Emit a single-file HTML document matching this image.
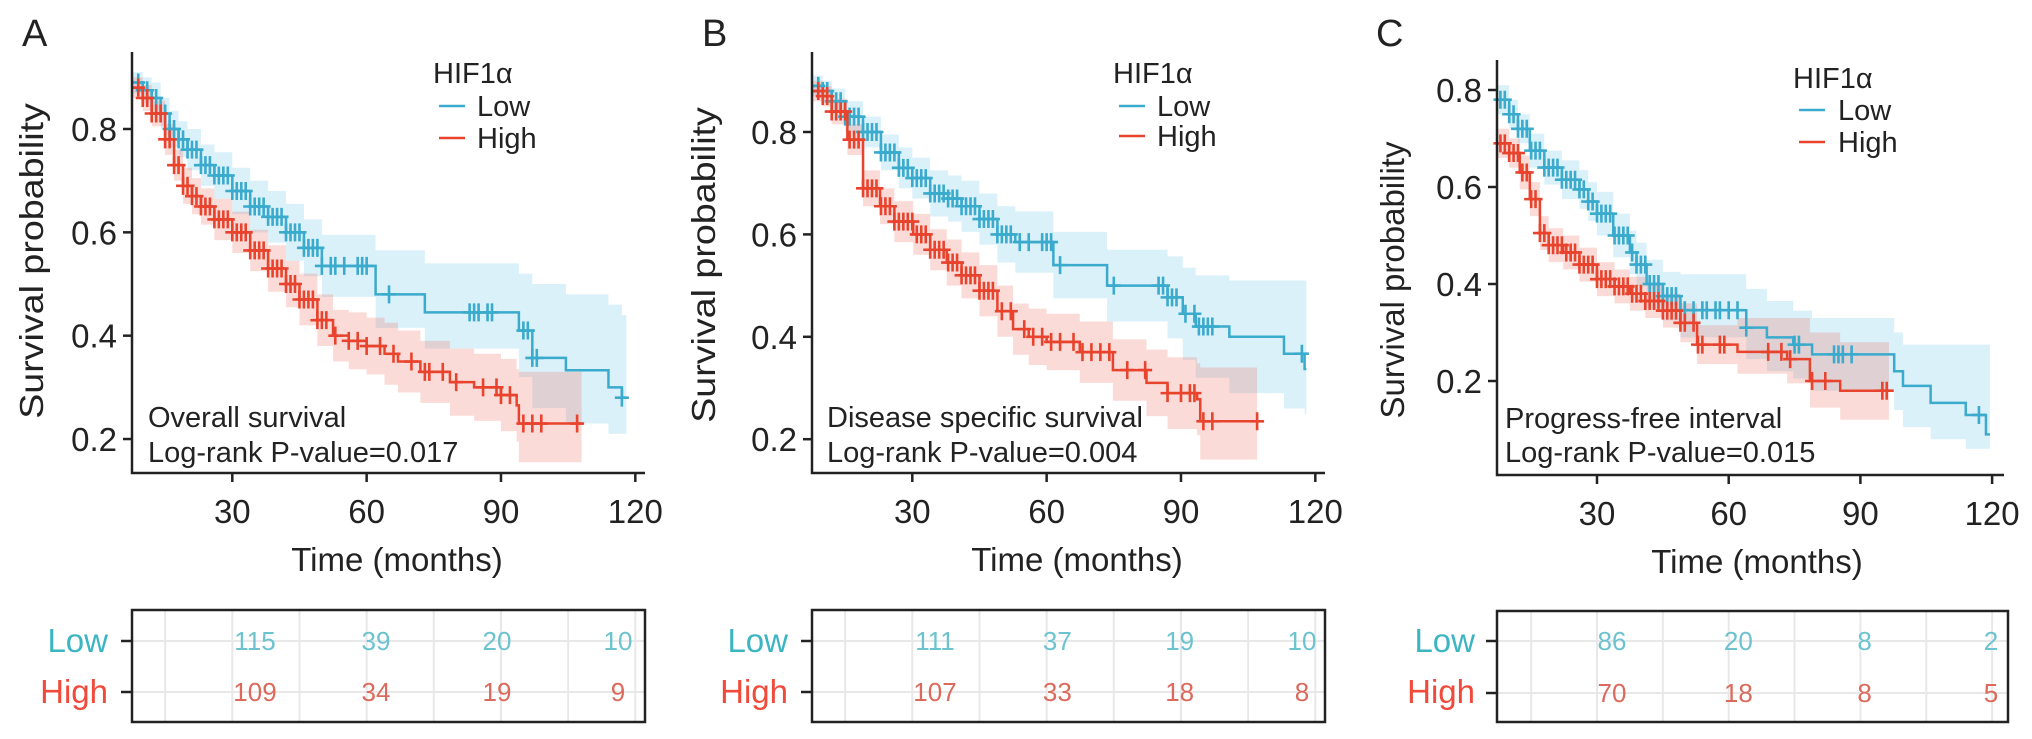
<!DOCTYPE html>
<html><head><meta charset="utf-8"><style>
html,body{margin:0;padding:0;background:#fff}
svg{display:block}
text{font-family:"Liberation Sans",Arial,sans-serif;fill:#222}
</style></head><body>
<svg id="fig" width="2032" height="739" viewBox="0 0 2032 739" xmlns="http://www.w3.org/2000/svg">
<g id="bands"></g>
<g id="marks"></g>
<g id="axes"></g>
<!-- Panel A static text -->
<text x="22" y="46" font-size="38">A</text>
<text transform="translate(43,261) rotate(-90) scale(1.14,1)" text-anchor="middle" font-size="33">Survival probability</text>
<text x="397" y="571" text-anchor="middle" font-size="33">Time (months)</text>
<text x="433" y="83" font-size="29">HIF1α</text>
<line x1="439" x2="465" y1="106" y2="106" stroke="#3aaacd" stroke-width="2.5"/>
<text x="477" y="116" font-size="29">Low</text>
<line x1="439" x2="465" y1="138" y2="138" stroke="#e8432d" stroke-width="2.5"/>
<text x="477" y="148" font-size="29">High</text>
<text x="148" y="427" font-size="29">Overall survival</text>
<text x="148" y="462" font-size="29">Log-rank P-value=0.017</text>
<text x="108" y="652" text-anchor="end" font-size="33" style="fill:#3bb5c2">Low</text>
<text x="108" y="703" text-anchor="end" font-size="33" style="fill:#f04a3a">High</text>
<!-- Panel B static text -->
<text x="702" y="46" font-size="38">B</text>
<text transform="translate(715,265) rotate(-90) scale(1.14,1)" text-anchor="middle" font-size="33">Survival probability</text>
<text x="1077" y="571" text-anchor="middle" font-size="33">Time (months)</text>
<text x="1113" y="83" font-size="29">HIF1α</text>
<line x1="1119" x2="1145" y1="106" y2="106" stroke="#3aaacd" stroke-width="2.5"/>
<text x="1157" y="116" font-size="29">Low</text>
<line x1="1119" x2="1145" y1="136" y2="136" stroke="#e8432d" stroke-width="2.5"/>
<text x="1157" y="146" font-size="29">High</text>
<text x="827" y="427" font-size="29">Disease specific survival</text>
<text x="827" y="462" font-size="29">Log-rank P-value=0.004</text>
<text x="788" y="652" text-anchor="end" font-size="33" style="fill:#3bb5c2">Low</text>
<text x="788" y="703" text-anchor="end" font-size="33" style="fill:#f04a3a">High</text>
<!-- Panel C static text -->
<text x="1376" y="46" font-size="38">C</text>
<text transform="translate(1404,280) rotate(-90)" text-anchor="middle" font-size="33">Survival probability</text>
<text x="1757" y="573" text-anchor="middle" font-size="33">Time (months)</text>
<text x="1793" y="88" font-size="29">HIF1α</text>
<line x1="1799" x2="1825" y1="110" y2="110" stroke="#3aaacd" stroke-width="2.5"/>
<text x="1838" y="120" font-size="29">Low</text>
<line x1="1799" x2="1825" y1="142" y2="142" stroke="#e8432d" stroke-width="2.5"/>
<text x="1838" y="152" font-size="29">High</text>
<text x="1505" y="428" font-size="29">Progress-free interval</text>
<text x="1505" y="462" font-size="29">Log-rank P-value=0.015</text>
<text x="1475" y="652" text-anchor="end" font-size="33" style="fill:#3bb5c2">Low</text>
<text x="1475" y="703" text-anchor="end" font-size="33" style="fill:#f04a3a">High</text>
</svg>
<script>
// ---------- data ----------
const xTicks = [30, 60, 90, 120];
const yTicks = [0.2, 0.4, 0.6, 0.8];
const yTickLabels = ["0.2", "0.4", "0.6", "0.8"];
const riskTimes = [30, 60, 90, 120];

// Panel A - overall survival
const aLowT  = [7.6,10,12,14,16,18,20,23,26,30,34,38,42,46,50,62,73,94,97,104.5,114,117,118];
const aLowS  = [0.89,0.875,0.86,0.83,0.80,0.78,0.76,0.73,0.71,0.68,0.65,0.63,0.60,0.57,0.535,0.48,0.445,0.41,0.357,0.333,0.30,0.28,0.28];
const aLowLo = [0.87,0.85,0.83,0.80,0.765,0.745,0.72,0.69,0.665,0.635,0.60,0.58,0.545,0.515,0.475,0.415,0.375,0.32,0.26,0.23,0.21,0.21,0.21];
const aLowHi = [0.91,0.90,0.89,0.86,0.835,0.815,0.80,0.77,0.755,0.725,0.70,0.68,0.655,0.625,0.595,0.565,0.54,0.52,0.50,0.48,0.46,0.44,0.44];
const aLowCens = [9,10,11,12,13,14,15,16,17,18,19,20,21,22,23,24,25,26,27,28,29,30,31,32,33,34,35,36,37,38,39,40,41,42,43,44,45,46,47,48,49,50,52,53,55,58,59,60,65,83,84,85,87,88,95,96,97,98,117];
const aHighT  = [7.6,10,12,15,17,19,21,23,26,30,34,38,42,45,49,52.5,56,60,64,67,72,78.6,84,90,93.5,94,108];
const aHighS  = [0.88,0.86,0.83,0.78,0.73,0.69,0.67,0.65,0.625,0.60,0.565,0.53,0.50,0.47,0.43,0.40,0.39,0.38,0.365,0.35,0.33,0.31,0.30,0.285,0.265,0.23,0.23];
const aHighLo = [0.86,0.835,0.805,0.75,0.70,0.655,0.635,0.615,0.585,0.56,0.525,0.485,0.455,0.42,0.38,0.35,0.335,0.325,0.305,0.29,0.27,0.245,0.235,0.215,0.195,0.155,0.155];
const aHighHi = [0.90,0.885,0.855,0.81,0.76,0.725,0.705,0.685,0.665,0.64,0.605,0.575,0.545,0.52,0.48,0.45,0.445,0.435,0.425,0.41,0.39,0.375,0.365,0.355,0.335,0.33,0.33];
const aHighCens = [9,10,11,12,13,14,15,16,17,18,19,20,21,22,23,24,25,26,27,28,29,30,31,32,33,34,35,36,37,38,39,40,41,42,43,44,45,46,47,48,49,50,51,53,56,58,60,63,66,70,73,74,77,80,86,89,90,92,95,97,99,107];
const aRiskLow  = [115, 39, 20, 10];
const aRiskHigh = [109, 34, 19, 9];

// Panel B - disease specific survival
const bLowT  = [7.6,10,12,15,19,23,27,30,34,38,41,45,49,53,61.5,73.5,87,90.4,93.3,100.8,113,117.6,118];
const bLowS  = [0.89,0.88,0.86,0.83,0.80,0.76,0.73,0.71,0.68,0.67,0.655,0.63,0.60,0.585,0.54,0.50,0.477,0.445,0.42,0.40,0.367,0.337,0.337];
const bLowLo = [0.87,0.86,0.835,0.80,0.77,0.725,0.69,0.67,0.635,0.625,0.605,0.58,0.545,0.525,0.475,0.43,0.397,0.355,0.32,0.29,0.26,0.25,0.25];
const bLowHi = [0.91,0.90,0.885,0.86,0.83,0.795,0.77,0.75,0.725,0.715,0.705,0.68,0.655,0.645,0.605,0.57,0.557,0.535,0.52,0.51,0.51,0.51,0.51];
const bLowCens = [9,10,11,12,13,14,15,16,17,18,19,20,21,22,23,24,25,26,27,28,29,30,31,32,33,34,35,36,37,38,39,40,41,42,43,44,45,46,47,48,49,50,51,52,54,56,59,60,61,63,75,85,86,87,88,89,91,93,94,95,96,97,117];
const bHighT  = [7.6,10,12,15.5,19,22.8,26,30.2,34,37.7,41,45,49,52.5,56,60,67.4,74.8,82.3,87,93.6,94.3,107];
const bHighS  = [0.88,0.87,0.84,0.785,0.69,0.655,0.625,0.60,0.57,0.545,0.52,0.49,0.45,0.415,0.40,0.39,0.37,0.335,0.31,0.29,0.278,0.235,0.235];
const bHighLo = [0.86,0.85,0.815,0.755,0.655,0.62,0.585,0.56,0.53,0.50,0.475,0.44,0.40,0.365,0.345,0.335,0.31,0.275,0.245,0.22,0.208,0.16,0.16];
const bHighHi = [0.90,0.89,0.865,0.815,0.725,0.69,0.665,0.64,0.61,0.59,0.565,0.54,0.50,0.465,0.455,0.445,0.43,0.395,0.375,0.36,0.348,0.34,0.34];
const bHighCens = [9,10,11,12,13,14,15,16,17,18,19,20,21,22,23,24,25,26,27,28,29,30,31,32,33,34,35,36,37,38,39,40,41,42,43,44,45,46,47,48,50,52,55,57,59,61,63,66,68,70,72,74,78,82,87,90,92,93,95,97,107];
const bRiskLow  = [111, 37, 19, 10];
const bRiskHigh = [107, 33, 18, 8];

// Panel C - progress-free interval
const cLowT  = [7.3,10,12,14.7,18,22,26,28,30,33.7,37.5,39,41.3,45,49,64,68.7,74.7,79,97.7,99.7,106,114,118.6,119.5];
const cLowS  = [0.78,0.75,0.72,0.675,0.64,0.615,0.595,0.57,0.545,0.50,0.465,0.44,0.40,0.375,0.346,0.31,0.29,0.275,0.255,0.22,0.19,0.155,0.13,0.09,0.09];
const cLowLo = [0.75,0.72,0.69,0.64,0.605,0.575,0.555,0.53,0.50,0.455,0.42,0.395,0.35,0.325,0.29,0.245,0.22,0.205,0.18,0.14,0.105,0.08,0.06,0.06,0.06];
const cLowHi = [0.81,0.78,0.75,0.71,0.675,0.655,0.635,0.61,0.59,0.545,0.51,0.485,0.45,0.425,0.42,0.39,0.365,0.345,0.33,0.30,0.275,0.275,0.275,0.275,0.275];
const cLowCens = [8,9,10,11,12,13,14,15,16,17,18,19,20,21,22,23,24,25,26,27,28,29,30,31,32,33,34,35,36,37,38,39,40,41,42,43,44,45,46,47,48,49,50,52,54,55,57,58,60,62,64,75,76,84,85,86,88,117];
const cHighT  = [7.3,10,12.4,14.7,17,19,22.3,26,30,34,37.5,41,45,49,52.8,62,73.3,78.5,85.4,96.5];
const cHighS  = [0.69,0.67,0.63,0.575,0.505,0.48,0.465,0.44,0.41,0.395,0.38,0.365,0.345,0.32,0.275,0.26,0.245,0.20,0.18,0.18];
const cHighLo = [0.66,0.64,0.595,0.54,0.47,0.445,0.43,0.405,0.375,0.36,0.345,0.33,0.31,0.28,0.235,0.215,0.195,0.145,0.12,0.12];
const cHighHi = [0.72,0.70,0.665,0.61,0.54,0.515,0.50,0.475,0.445,0.43,0.415,0.40,0.38,0.36,0.315,0.33,0.33,0.30,0.28,0.28];
const cHighCens = [8,9,10,11,12,13,14,15,16,17,18,19,20,21,22,23,24,25,26,27,28,29,30,31,32,33,34,35,36,37,38,39,40,41,42,43,44,45,46,47,48,49,50,52,53,54,58,59,69,72,74,79,82,95,96];
const cRiskLow  = [86, 20, 8, 2];
const cRiskHigh = [70, 18, 8, 5];

// ---------- drawing ----------
const NS = "http://www.w3.org/2000/svg";
const LOW = "#3aaacd", HIGH = "#e8432d";
const gBands = document.getElementById("bands");
const gMarks = document.getElementById("marks");
const gAxes = document.getElementById("axes");

function mk(tag, parent) { const e = document.createElementNS(NS, tag); parent.appendChild(e); return e; }
function stepAt(T, S, t) { let v = S[0]; for (let i = 0; i < T.length; i++) { if (T[i] <= t) v = S[i]; } return v; }

function drawPanel(p, id) {
  const X = t => p.x30 + (t - 30) * p.kx;
  const Y = v => p.y08 + (0.8 - v) * p.ky;
  const TX = t => p.tx30 + (t - 30) * (p.tx120 - p.tx30) / 90;
  const series = [
    {T: p.lowT, S: p.lowS, Lo: p.lowLo, Hi: p.lowHi, C: p.lowC, col: LOW, fill: "#5cbde6", op: 0.22, nm: "low"},
    {T: p.highT, S: p.highS, Lo: p.highLo, Hi: p.highHi, C: p.highC, col: HIGH, fill: "#f06a5a", op: 0.24, nm: "high"}
  ];
  series.forEach(s => {
    const n = s.T.length;
    let d = "M" + X(s.T[0]) + "," + Y(s.Hi[0]);
    for (let i = 1; i < n; i++) d += "H" + X(s.T[i]) + "V" + Y(s.Hi[i]);
    d += "V" + Y(s.Lo[n - 1]);
    for (let i = n - 1; i >= 1; i--) d += "H" + X(s.T[i]) + "V" + Y(s.Lo[i - 1]);
    d += "H" + X(s.T[0]) + "Z";
    const band = mk("path", gBands);
    band.setAttribute("d", d);
    band.setAttribute("fill", s.fill);
    band.setAttribute("fill-opacity", s.op);
    
    
  });
  series.forEach(s => {
    let d = "M" + X(s.T[0]) + "," + Y(s.S[0]);
    for (let i = 1; i < s.T.length; i++) d += "H" + X(s.T[i]) + "V" + Y(s.S[i]);
    const line = mk("path", gMarks);
    line.setAttribute("d", d);
    line.setAttribute("fill", "none");
    line.setAttribute("stroke", s.col);
    line.setAttribute("stroke-width", "2.5");
    
    
    s.C.forEach(c => {
      const v = stepAt(s.T, s.S, c);
      const cx = X(c), cy = Y(v);
      const m = mk("path", gMarks);
      m.setAttribute("d", "M" + (cx - 7) + "," + cy + "H" + (cx + 7) + "M" + cx + "," + (cy - 9) + "V" + (cy + 9));
      m.setAttribute("stroke", s.col);
      m.setAttribute("stroke-width", "2.6");
      
      
    });
  });
  const ax = mk("path", gAxes);
  ax.setAttribute("d", "M" + p.ax + "," + p.top + "V" + p.axY + "H" + p.right);
  ax.setAttribute("fill", "none");
  ax.setAttribute("stroke", "#222");
  ax.setAttribute("stroke-width", "2.5");
  
  
  yTicks.forEach((v, i) => {
    const tk = mk("line", gAxes);
    tk.setAttribute("x1", p.ax - 9); tk.setAttribute("x2", p.ax);
    tk.setAttribute("y1", Y(v)); tk.setAttribute("y2", Y(v));
    tk.setAttribute("stroke", "#222"); tk.setAttribute("stroke-width", "2.5");
    
    
    const lb = mk("text", gAxes);
    lb.setAttribute("x", p.ax - 15); lb.setAttribute("y", Y(v) + 12);
    lb.setAttribute("text-anchor", "end"); lb.setAttribute("font-size", "33");
    lb.textContent = yTickLabels[i];
    
    
  });
  xTicks.forEach(t => {
    const tk = mk("line", gAxes);
    tk.setAttribute("x1", X(t)); tk.setAttribute("x2", X(t));
    tk.setAttribute("y1", p.axY); tk.setAttribute("y2", p.axY + 9);
    tk.setAttribute("stroke", "#222"); tk.setAttribute("stroke-width", "2.5");
    
    
    const lb = mk("text", gAxes);
    lb.setAttribute("x", X(t)); lb.setAttribute("y", p.axY + 50);
    lb.setAttribute("text-anchor", "middle"); lb.setAttribute("font-size", "33");
    lb.textContent = String(t);
    
    
  });
  const rows = [p.rowLowY, p.rowHighY];
  for (let t = 15; t <= 120; t += 15) {
    const g = mk("line", gAxes);
    g.setAttribute("x1", X(t)); g.setAttribute("x2", X(t));
    g.setAttribute("y1", p.tTop); g.setAttribute("y2", p.tBot);
    g.setAttribute("stroke", "#e8e8e8"); g.setAttribute("stroke-width", "2");
    
    
  }
  rows.forEach(ry => {
    const g = mk("line", gAxes);
    g.setAttribute("x1", p.ax); g.setAttribute("x2", p.tRight);
    g.setAttribute("y1", ry); g.setAttribute("y2", ry);
    g.setAttribute("stroke", "#e8e8e8"); g.setAttribute("stroke-width", "2");
    
    
    const tk = mk("line", gAxes);
    tk.setAttribute("x1", p.ax - 11); tk.setAttribute("x2", p.ax);
    tk.setAttribute("y1", ry); tk.setAttribute("y2", ry);
    tk.setAttribute("stroke", "#222"); tk.setAttribute("stroke-width", "2.5");
    
    
  });
  const box = mk("rect", gAxes);
  box.setAttribute("x", p.ax); box.setAttribute("y", p.tTop);
  box.setAttribute("width", p.tRight - p.ax); box.setAttribute("height", p.tBot - p.tTop);
  box.setAttribute("fill", "none"); box.setAttribute("stroke", "#222"); box.setAttribute("stroke-width", "2.5");
  
  
  [[p.riskLow, p.rowLowY, "#6cc3cf", "low"], [p.riskHigh, p.rowHighY, "#dc6a5c", "high"]].forEach(r => {
    riskTimes.forEach((t, i) => {
      const tx = mk("text", gAxes);
      tx.setAttribute("x", TX(t)); tx.setAttribute("y", r[1] + 9);
      tx.setAttribute("text-anchor", "middle"); tx.setAttribute("font-size", "26");
      tx.style.fill = r[2];
      tx.textContent = String(r[0][i]);
      
      
    });
  });
}

drawPanel({x30: 232.3, kx: 4.478, y08: 129, ky: 516.7, ax: 132, top: 52, axY: 473, right: 645,
  tx30: 255, tx120: 618, tTop: 610, tBot: 722, tRight: 645, rowLowY: 641, rowHighY: 692,
  lowT: aLowT, lowS: aLowS, lowLo: aLowLo, lowHi: aLowHi, lowC: aLowCens,
  highT: aHighT, highS: aHighS, highLo: aHighLo, highHi: aHighHi, highC: aHighCens,
  riskLow: aRiskLow, riskHigh: aRiskHigh}, "a");
drawPanel({x30: 912.3, kx: 4.478, y08: 132, ky: 512, ax: 812, top: 52, axY: 473, right: 1325,
  tx30: 935, tx120: 1302, tTop: 610, tBot: 722, tRight: 1325, rowLowY: 641, rowHighY: 692,
  lowT: bLowT, lowS: bLowS, lowLo: bLowLo, lowHi: bLowHi, lowC: bLowCens,
  highT: bHighT, highS: bHighS, highLo: bHighLo, highHi: bHighHi, highC: bHighCens,
  riskLow: bRiskLow, riskHigh: bRiskHigh}, "b");
drawPanel({x30: 1597, kx: 4.39, y08: 90, ky: 485, ax: 1497, top: 60, axY: 475, right: 2004,
  tx30: 1612, tx120: 1991, tTop: 611, tBot: 722, tRight: 2008, rowLowY: 641, rowHighY: 693,
  lowT: cLowT, lowS: cLowS, lowLo: cLowLo, lowHi: cLowHi, lowC: cLowCens,
  highT: cHighT, highS: cHighS, highLo: cHighLo, highHi: cHighHi, highC: cHighCens,
  riskLow: cRiskLow, riskHigh: cRiskHigh}, "c");
</script>
</body></html>
